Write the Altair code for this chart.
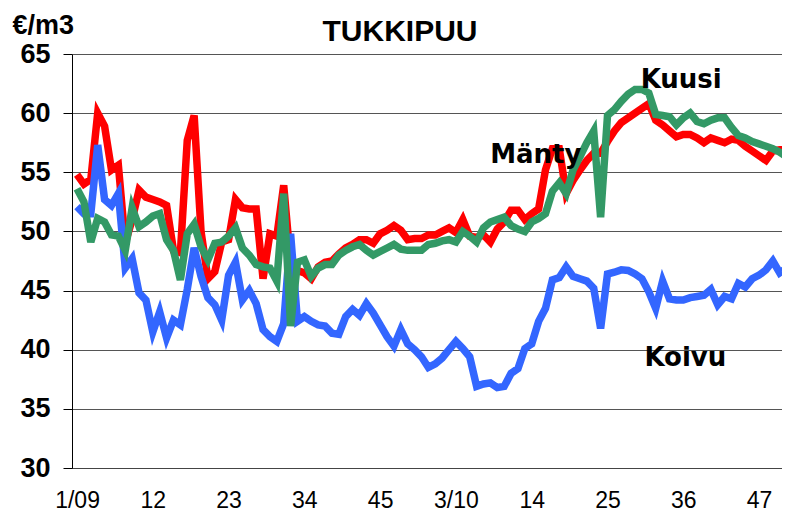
import altair as alt
import pandas as pd

# Weekly log prices (TUKKIPUU), index 0 = week 1/2009 ... 104 = week 52/2010
manty = [54.8, 54.0, 54.4, 60.0, 58.9, 55.2, 55.6, 49.0, 51.0, 53.5,
         52.9, 52.7, 52.5, 52.2, 48.4, 48.2, 57.7, 59.8, 50.0, 46.0,
         46.6, 49.1, 49.3, 52.7, 52.0, 51.9, 51.9, 46.0, 49.8, 49.6,
         53.9, 47.3, 46.7, 46.5, 46.0, 47.0, 47.4, 47.5, 48.1, 48.6,
         48.9, 49.3, 49.3, 49.0, 49.8, 50.1, 50.5, 50.1, 49.3, 49.4,
         49.4, 49.7, 49.7, 50.0, 50.3, 49.9, 51.0, 49.6, 49.5, 49.7,
         49.1, 50.2, 50.8, 51.8, 51.8, 51.0, 51.5, 51.9, 55.2, 57.0,
         57.0, 53.2, 54.3, 55.2, 56.0, 56.6, 56.6, 57.6, 58.5, 59.2,
         59.6, 60.0, 60.4, 60.8, 59.4, 59.0, 58.5, 58.0, 58.2, 58.2,
         57.9, 57.5, 57.9, 57.7, 57.5, 57.8, 57.7, 57.2, 56.8, 56.4,
         56.0, 56.8, 56.9, 56.9, 56.9]

koivu = [52.1, 51.5, 51.5, 57.3, 52.7, 52.2, 53.2, 46.9, 47.7, 44.8,
         44.2, 41.5, 43.2, 41.0, 42.5, 42.1, 45.1, 48.6, 46.2, 44.4,
         43.8, 42.5, 46.3, 47.4, 44.2, 45.0, 43.9, 41.7, 41.1, 40.7,
         42.2, 49.8, 42.4, 42.8, 42.4, 42.1, 42.0, 41.4, 41.3, 42.8,
         43.4, 42.9, 43.9, 43.1, 42.1, 41.1, 40.3, 41.7, 40.5, 40.0,
         39.4, 38.5, 38.8, 39.3, 40.0, 40.7, 40.1, 39.4, 36.9, 37.1,
         37.2, 36.8, 36.9, 38.0, 38.4, 40.1, 40.5, 42.4, 43.5, 45.9,
         46.1, 47.0, 46.2, 46.0, 45.8, 45.2, 41.8, 46.4, 46.55, 46.75,
         46.7, 46.4, 46.0, 44.9, 43.5, 45.8, 44.3, 44.2, 44.2, 44.4,
         44.5, 44.6, 45.1, 43.8, 44.5, 44.3, 45.6, 45.3, 46.0, 46.3,
         46.75, 47.5, 46.5, 46.9, 47.3]

kuusi = [53.6, 52.5, 49.1, 51.1, 50.8, 49.7, 49.6, 48.4, 52.0, 50.4,
         50.8, 51.3, 51.5, 49.3, 48.4, 45.9, 49.8, 50.6, 48.7, 47.6,
         49.0, 49.1, 49.6, 50.3, 48.6, 48.0, 47.2, 47.0, 46.9, 45.8,
         53.2, 42.0, 47.4, 47.6, 46.2, 46.9, 47.2, 47.2, 48.0, 48.4,
         48.7, 48.9, 48.4, 48.0, 48.3, 48.6, 48.9, 48.5, 48.4, 48.4,
         48.4, 48.9, 49.0, 49.2, 49.3, 49.1, 50.0, 49.6, 49.1, 50.3,
         50.8, 51.0, 51.2, 50.5, 50.2, 50.0, 50.8, 51.1, 51.5, 53.4,
         54.1, 53.2, 55.2, 56.3, 57.5, 58.5, 51.2, 59.8, 60.3, 61.0,
         61.6, 62.0, 62.0, 61.7, 59.9, 59.8, 59.7, 59.0, 59.6, 60.0,
         59.3, 59.1, 59.4, 59.6, 59.6, 58.8, 58.1, 57.9, 57.6, 57.4,
         57.2, 57.0, 56.7, 56.3, 54.8]

tick_values = [0, 11, 22, 33, 44, 55, 66, 77, 88, 99]
tick_labels = ["1/09", "12", "23", "34", "45", "3/10", "14", "25", "36", "47"]
y_ticks = [30, 35, 40, 45, 50, 55, 60, 65]

series_names = ["Mänty", "Koivu", "Kuusi"]
series_colors = ["#FF0000", "#3366FF", "#339966"]

label_names = ["Mänty", "Kuusi", "Koivu"]
label_i = [66.6, 87.7, 88.3]
label_v = [55.8, 62.1, 38.6]

rows = []
for name, vals in zip(series_names, [manty, koivu, kuusi]):
    for i, v in enumerate(vals):
        rows.append({"series": name, "i": i, "v": v})
df = pd.DataFrame(rows)

labels_df = pd.DataFrame({"name": label_names, "i": label_i, "v": label_v})
title_df = pd.DataFrame({"t": ["TUKKIPUU"]})

label_expr = "[" + ",".join("'%s'" % t for t in tick_labels) + "][round(datum.value/11)]"

x_scale = alt.Scale(domain=[-0.73, 102.33], nice=False, zero=False)
y_scale = alt.Scale(domain=[30, 65], nice=False, zero=False)

x_axis = alt.Axis(values=tick_values, labelExpr=label_expr, title=None, grid=False,
                  ticks=False, tickSize=0, labelFontSize=23, labelFont="Liberation Sans",
                  labelColor="black", labelBaseline="alphabetic", labelPadding=39,
                  labelOverlap=False, labelFlush=False, domainColor="#444", domainWidth=1)

y_axis = alt.Axis(values=y_ticks, title="€/m3", titleAngle=0, titleAlign="left",
                  titleBaseline="alphabetic", titleX=-60, titleY=-21, titleFontSize=27,
                  titleFont="Liberation Sans", titleFontWeight="bold", titleColor="black",
                  labelFontSize=27, labelFont="Liberation Sans", labelFontWeight="bold",
                  labelColor="black", tickSize=9, tickColor="black", domainColor="black",
                  labelPadding=13, grid=True, gridColor="#555", gridWidth=1,
                  labelOverlap=False)

X = alt.X("i:Q", scale=x_scale, axis=x_axis)
Y = alt.Y("v:Q", scale=y_scale, axis=y_axis)

layers = []
for name, col in zip(series_names, series_colors):
    layers.append(
        alt.Chart(df).transform_filter(alt.datum.series == name)
        .mark_line(color=col, strokeWidth=7.5, clip=True, strokeJoin="miter")
        .encode(x=X, y=Y)
    )

text_layer = alt.Chart(labels_df).mark_text(
    font="DejaVu Sans", fontSize=26, fontWeight="bold", color="black",
    align="center", baseline="alphabetic"
).encode(x=X, y=Y, text="name:N")

title_layer = alt.Chart(title_df).mark_text(
    font="Liberation Sans", fontSize=30, fontWeight="bold", color="black",
    align="center", baseline="alphabetic"
).encode(x=alt.value(328), y=alt.value(-13), text="t:N")

chart = alt.layer(*layers, text_layer, title_layer).properties(
    width=710, height=414,
    autosize=alt.AutoSizeParams(type="none"),
    padding={"left": 64, "top": 46, "right": 0, "bottom": 46},
).configure_view(strokeWidth=0)

chart.save("out.html", embed_options={"renderer": "svg", "actions": False})
